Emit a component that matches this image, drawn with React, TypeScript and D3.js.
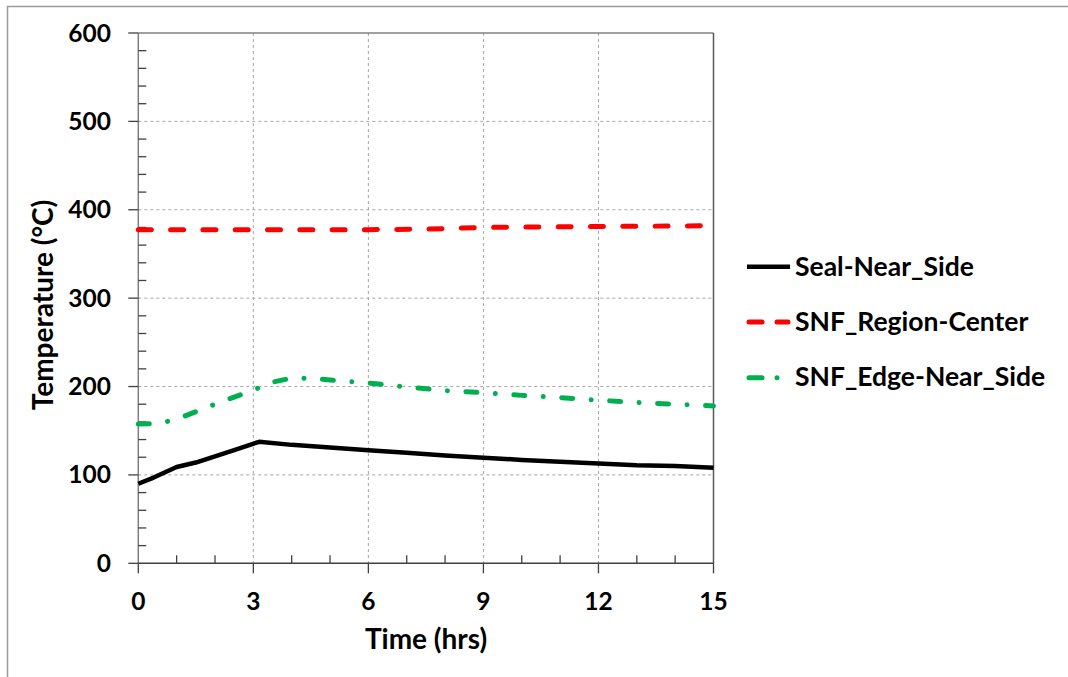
import React from "react";
import * as d3 from "d3";

const W = 1068;
const H = 677;

const xTicks = [0, 3, 6, 9, 12, 15];
const yTicks = [0, 100, 200, 300, 400, 500, 600];

const sealTime = [0, 0.4, 1, 1.5, 2, 2.5, 3.15, 4, 5, 6, 7, 8, 9, 10, 11, 12, 13, 14, 15];
const sealTemp = [90, 97, 109, 114, 121, 128, 137.5, 134, 131, 128, 125, 122, 119.5, 117, 115, 113, 111, 110, 108];

const regionTime = [0, 3, 6, 7.5, 9, 12, 15];
const regionTemp = [377.5, 377.5, 377.5, 378, 380, 381, 382];

const edgeTime = [0, 0.5, 1, 2, 3, 3.5, 4, 4.5, 5, 6, 7, 8, 9, 10, 11, 12, 13, 14, 15];
const edgeTemp = [157.5, 158, 163, 180, 196, 205, 209.5, 209.5, 207.5, 204, 199.5, 195.5, 193, 190, 187.5, 184.5, 182, 180, 178];

const seriesNames = ["Seal-Near_Side", "SNF_Region-Center", "SNF_Edge-Near_Side"];

const FONT = "Lato, 'Open Sans', sans-serif";

export default function App() {
  const left = 138.3;
  const right = 713.5;
  const top = 33;
  const bottom = 563.3;

  const x = d3.scaleLinear().domain([0, 15]).range([left, right]);
  const y = d3.scaleLinear().domain([0, 600]).range([bottom, top]);

  const mk = (t: number[], v: number[]) =>
    d3.line<number>().x((_, i) => x(t[i])).y((d) => y(d))(v) || "";

  const series = [
    { name: seriesNames[0], d: mk(sealTime, sealTemp), color: "#000000", width: 4.5, dash: "" },
    { name: seriesNames[1], d: mk(regionTime, regionTemp), color: "#ff0000", width: 5, dash: "13 19.3" },
    { name: seriesNames[2], d: mk(edgeTime, edgeTemp), color: "#00b050", width: 5, dash: "11 18.5 0.01 18.5" },
  ];

  const minorY = d3.range(0, 601, 20).filter((v) => v % 100 !== 0);
  const minorX = d3.range(0, 16, 1).filter((v) => v % 3 !== 0);

  const legendLineY = [266.7, 322, 377.7];
  const legendTextY = [276, 331, 386];

  return (
    <svg
      width={W}
      height={H}
      style={{ position: "absolute", left: 0, top: 0, background: "#fff" }}
      fontFamily={FONT}
    >
      <rect x={0} y={0} width={W} height={H} fill="#fff" />
      <rect x={7.5} y={6.5} width={W + 10} height={H + 10} fill="none" stroke="#9a9a9a" strokeWidth={1.5} />

      {/* gridlines */}
      {yTicks.filter((v) => v !== 0 && v !== 600).map((v) => (
        <line key={"gy" + v} x1={left} x2={right} y1={y(v)} y2={y(v)} stroke="#a6a6a6" strokeWidth={1} strokeDasharray="3 3" />
      ))}
      {xTicks.filter((v) => v !== 0 && v !== 15).map((v) => (
        <line key={"gx" + v} x1={x(v)} x2={x(v)} y1={top} y2={bottom} stroke="#a6a6a6" strokeWidth={1} strokeDasharray="3 3" />
      ))}

      {/* plot border top/right */}
      <line x1={left} x2={right} y1={top} y2={top} stroke="#808080" strokeWidth={1.3} />
      <line x1={right} x2={right} y1={top} y2={bottom} stroke="#595959" strokeWidth={1.5} />

      {/* axes */}
      <line x1={left} x2={left} y1={top} y2={bottom} stroke="#7f7f7f" strokeWidth={1.5} />
      <line x1={left} x2={right} y1={bottom} y2={bottom} stroke="#404040" strokeWidth={1.5} />

      {/* y ticks */}
      {yTicks.map((v) => (
        <line key={"ty" + v} x1={left - 10} x2={left} y1={y(v)} y2={y(v)} stroke="#404040" strokeWidth={1.3} />
      ))}
      {minorY.map((v) => (
        <line key={"my" + v} x1={left} x2={left + 8} y1={y(v)} y2={y(v)} stroke="#404040" strokeWidth={1.3} />
      ))}
      {/* x ticks */}
      {xTicks.map((v) => (
        <line key={"tx" + v} x1={x(v)} x2={x(v)} y1={bottom} y2={bottom + 10} stroke="#404040" strokeWidth={1.3} />
      ))}
      {minorX.map((v) => (
        <line key={"mx" + v} x1={x(v)} x2={x(v)} y1={bottom} y2={bottom - 8} stroke="#404040" strokeWidth={1.3} />
      ))}

      {/* series */}
      {series.map((s) => (
        <path
          key={s.name}
          d={s.d}
          fill="none"
          stroke={s.color}
          strokeWidth={s.width}
          strokeDasharray={s.dash || undefined}
          strokeLinecap={s.dash ? "round" : "butt"}
          strokeLinejoin="round"
        />
      ))}

      {/* tick labels */}
      {yTicks.map((v) => (
        <text key={"ly" + v} x={111} y={y(v) + 8.5} textAnchor="end" fontSize={24.5} fontWeight={700} fill="#000">
          {v}
        </text>
      ))}
      {xTicks.map((v) => (
        <text key={"lx" + v} x={x(v)} y={610} textAnchor="middle" fontSize={24.5} fontWeight={700} fill="#000">
          {v}
        </text>
      ))}

      {/* axis titles */}
      <text x={426} y={649} textAnchor="middle" fontSize={28} fontWeight={700} fill="#000">
        Time (hrs)
      </text>
      <text transform={`translate(53,305) rotate(-90)`} textAnchor="middle" fontSize={28} fontWeight={700} fill="#000">
        Temperature (°C)
      </text>

      {/* legend */}
      {series.map((s, i) => (
        <g key={"lg" + i}>
          <line
            x1={s.dash ? 749 : 747}
            x2={s.dash ? 788 : 790}
            y1={legendLineY[i]}
            y2={legendLineY[i]}
            stroke={s.color}
            strokeWidth={s.width}
            strokeDasharray={s.dash ? (i === 1 ? "13 15" : "13 15 0.01 20") : undefined}
            strokeLinecap={s.dash ? "round" : "butt"}
          />
          <text x={795} y={legendTextY[i]} fontSize={26.5} fontWeight={700} fill="#000">
            {s.name}
          </text>
        </g>
      ))}
    </svg>
  );
}
